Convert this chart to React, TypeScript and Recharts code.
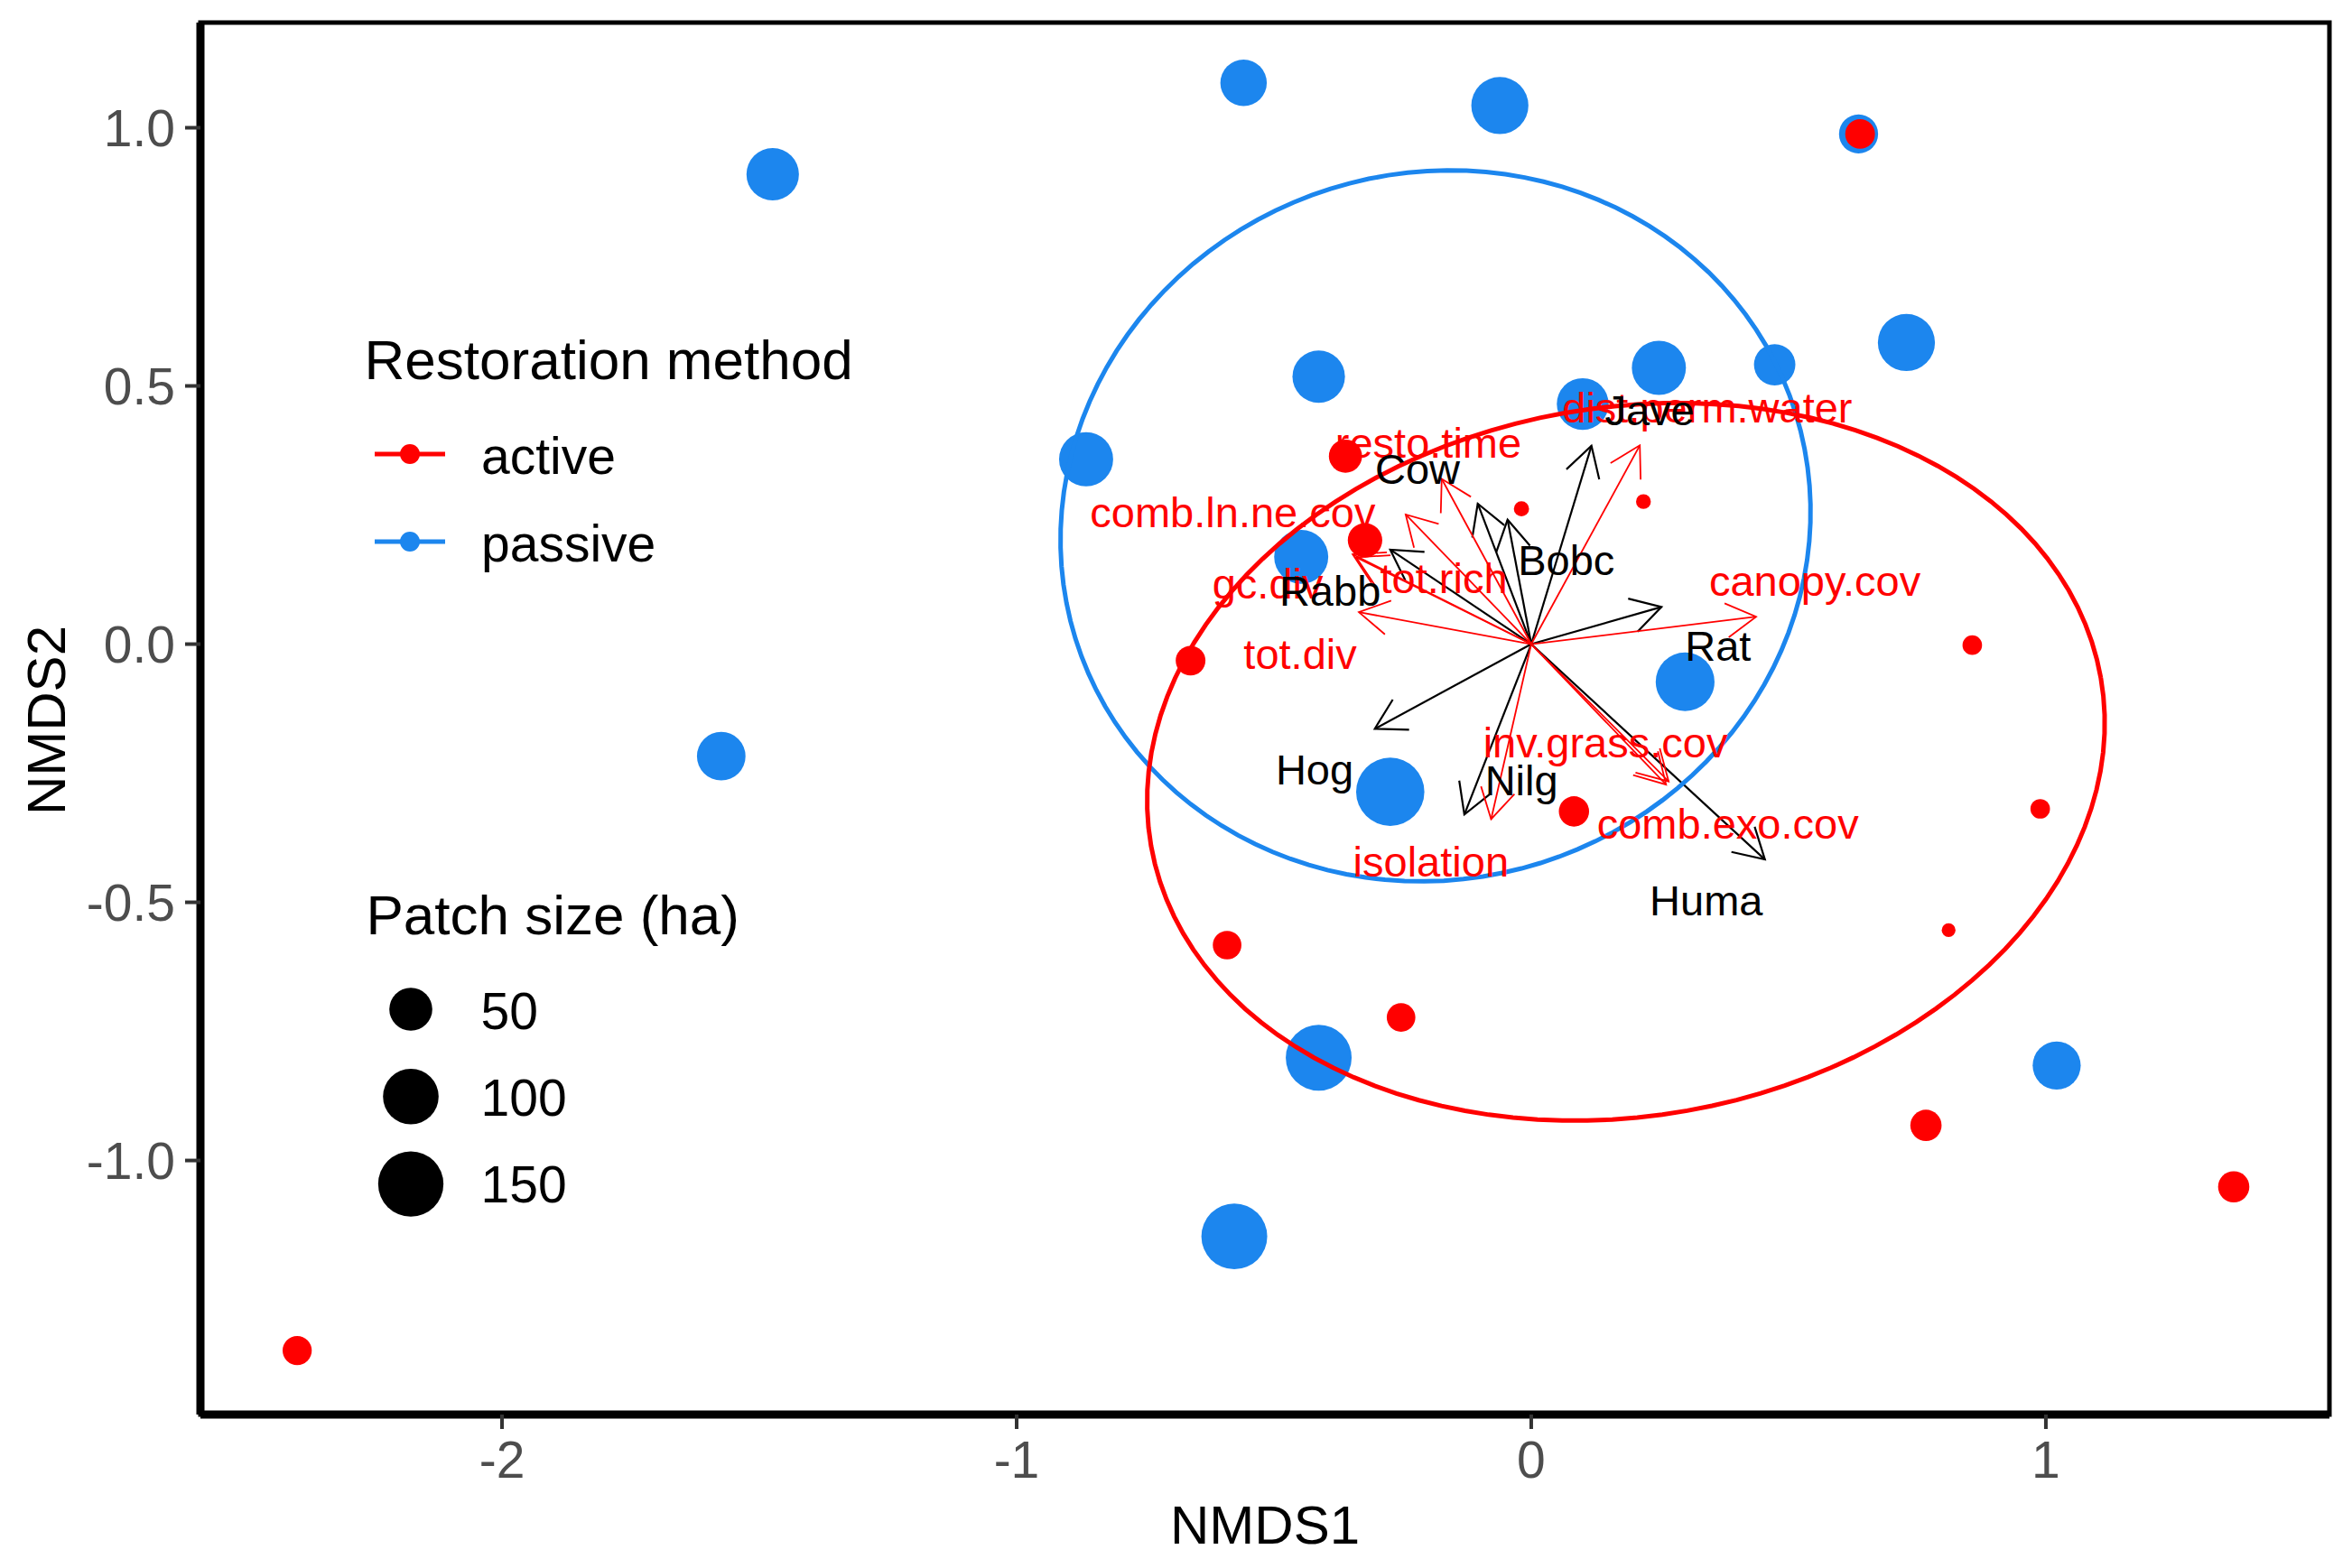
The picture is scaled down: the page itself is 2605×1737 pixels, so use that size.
import { ScatterChart, Scatter, XAxis, YAxis, ReferenceLine, ReferenceArea } from "recharts";

const FONT = "'Liberation Sans', Arial, Helvetica, sans-serif";
const RED = "#FF0000";
const BLUE = "#1C86EE";
const TICK_GREY = "#4D4D4D";

const W = 2589;
const H = 1721;

// axes
const X_DOMAIN: [number, number] = [-2.586, 1.551];
const Y_DOMAIN: [number, number] = [-1.492, 1.2037];
const X_TICKS = [-2, -1, 0, 1];
const Y_TICKS = [-1, -0.5, 0, 0.5, 1];

// site scores, passive restoration
const PASSIVE_X = [-0.559, -0.061, -1.474, 0.636, 0.729, 0.473, 0.248, 0.1, -0.413, -0.865, -0.447, 0.299, -0.274, -1.574, -0.413, 1.021, -0.577];
const PASSIVE_Y = [1.087, 1.043, 0.91, 0.988, 0.584, 0.541, 0.535, 0.465, 0.518, 0.358, 0.169, -0.073, -0.286, -0.217, -0.801, -0.816, -1.147];
const PASSIVE_HA = [62, 107, 86, 38, 107, 45, 93, 83, 86, 93, 93, 115, 167, 70, 153, 68, 153];

// site scores, active restoration
const ACTIVE_X = [0.639, -0.361, -0.323, -0.019, 0.218, -0.662, 0.857, 0.989, 0.811, 0.083, -0.591, -0.253, 0.767, 1.365, -2.398];
const ACTIVE_Y = [0.988, 0.364, 0.201, 0.262, 0.276, -0.032, -0.002, -0.319, -0.554, -0.324, -0.583, -0.723, -0.932, -1.051, -1.368];
const ACTIVE_HA = [16, 23, 26, 0.4, 0.3, 16, 2.7, 2.7, 0.1, 17, 14, 14, 19, 19, 15];

// species vectors (black)
const SPECIES = ["Jave", "Cow", "Bobc", "Rabb", "Rat", "Hog", "Nilg", "Huma"];
const SPECIES_X = [0.117, -0.104, -0.046, -0.274, 0.253, -0.304, -0.13, 0.454];
const SPECIES_Y = [0.384, 0.272, 0.241, 0.183, 0.072, -0.164, -0.33, -0.417];
const SPECIES_LX = [0.23, -0.221, 0.068, -0.391, 0.363, -0.421, -0.019, 0.34];
const SPECIES_LY = [0.453, 0.34, 0.163, 0.104, -0.003, -0.242, -0.263, -0.496];

// environmental vectors (red)
const ENV = ["dist.perm.water", "resto.time", "comb.ln.ne.cov", "gc.div", "tot.rich", "tot.div", "canopy.cov", "inv.grass.cov", "comb.exo.cov", "isolation"];
const ENV_X = [0.211, -0.174, -0.244, -0.347, -0.34, -0.335, 0.437, 0.267, 0.262, -0.078];
const ENV_Y = [0.385, 0.32, 0.251, 0.174, 0.168, 0.062, 0.053, -0.266, -0.272, -0.339];
const ENV_LX = [0.342, -0.2, -0.58, -0.512, -0.17, -0.449, 0.551, 0.144, 0.382, -0.195];
const ENV_LY = [0.458, 0.39, 0.256, 0.117, 0.128, -0.018, 0.122, -0.19, -0.348, -0.421];

// 95% ellipses per group: centre, semi-axes, rotation (deg)
const ELLIPSE_GROUP = ["passive", "active"];
const ELLIPSE_CX = [-0.186, 0.184];
const ELLIPSE_CY = [0.229, -0.228];
const ELLIPSE_A = [0.733, 0.937];
const ELLIPSE_B = [0.684, 0.686];
const ELLIPSE_ROT = [17.35, 10];

const SIZE_BREAKS = [50, 100, 150];

const radius = (ha: number) => 6.9 + 2.39 * Math.sqrt(ha);

const passive = PASSIVE_X.map((x, i) => ({ x, y: PASSIVE_Y[i], ha: PASSIVE_HA[i] }));
const active = ACTIVE_X.map((x, i) => ({ x, y: ACTIVE_Y[i], ha: ACTIVE_HA[i] }));
const speciesLabels = SPECIES.map((name, i) => ({ x: SPECIES_LX[i], y: SPECIES_LY[i], name }));
const envLabels = ENV.map((name, i) => ({ x: ENV_LX[i], y: ENV_LY[i], name }));

const ellipse = (i: number) => {
  const rot = (ELLIPSE_ROT[i] * Math.PI) / 180;
  const pts = [];
  for (let k = 0; k <= 120; k++) {
    const t = (2 * Math.PI * k) / 120;
    const u = ELLIPSE_A[i] * Math.cos(t);
    const v = ELLIPSE_B[i] * Math.sin(t);
    pts.push({
      x: ELLIPSE_CX[i] + u * Math.cos(rot) - v * Math.sin(rot),
      y: ELLIPSE_CY[i] + u * Math.sin(rot) + v * Math.cos(rot),
    });
  }
  return pts;
};

const dot = (color: string) => (p: any) => (
  <circle cx={p.cx} cy={p.cy} r={radius(p.payload.ha)} fill={color} />
);

const label = (color: string) => (p: any) => (
  <text x={p.cx} y={p.cy} dy="0.355em" fill={color} fontSize={47} fontFamily={FONT} textAnchor="middle">
    {p.payload.name}
  </text>
);

const arrow = (color: string, width: number) => (p: any) => {
  const { x1, y1, x2, y2 } = p;
  const ang = Math.atan2(y2 - y1, x2 - x1);
  const len = 38;
  const wing = Math.PI / 6;
  const ax = x2 - len * Math.cos(ang - wing);
  const ay = y2 - len * Math.sin(ang - wing);
  const bx = x2 - len * Math.cos(ang + wing);
  const by = y2 - len * Math.sin(ang + wing);
  return (
    <g>
      <line x1={x1} y1={y1} x2={x2} y2={y2} stroke={color} strokeWidth={width} />
      <polyline points={`${ax},${ay} ${x2},${y2} ${bx},${by}`} fill="none" stroke={color} strokeWidth={width} />
    </g>
  );
};

const none = () => <g />;

export default function App() {
  const tick = { fill: TICK_GREY, fontSize: 57, fontFamily: FONT };
  return (
    <div style={{ position: "relative", width: W, height: H, fontFamily: FONT, background: "#fff" }}>
      <ScatterChart width={W} height={H} margin={{ top: 17, right: 17, bottom: 12, left: 14 }}>
        <XAxis
          type="number"
          dataKey="x"
          domain={X_DOMAIN}
          ticks={X_TICKS}
          allowDataOverflow
          height={150}
          tick={tick}
          tickSize={16}
          tickMargin={14}
          tickLine={{ stroke: "#333", strokeWidth: 4 }}
          axisLine={{ stroke: "#000", strokeWidth: 9 }}
        />
        <YAxis
          type="number"
          dataKey="y"
          domain={Y_DOMAIN}
          ticks={Y_TICKS}
          allowDataOverflow
          width={200}
          tick={tick}
          tickSize={17}
          tickMargin={11}
          tickFormatter={(v: number) => v.toFixed(1)}
          tickLine={{ stroke: "#333", strokeWidth: 4 }}
          axisLine={{ stroke: "#000", strokeWidth: 9 }}
        />
        <ReferenceArea
          x1={X_DOMAIN[0]}
          x2={X_DOMAIN[1]}
          y1={Y_DOMAIN[0]}
          y2={Y_DOMAIN[1]}
          fill="none"
          fillOpacity={0}
          stroke="#000"
          strokeWidth={5}
          ifOverflow="visible"
        />
        <Scatter data={passive} shape={dot(BLUE)} isAnimationActive={false} />
        <Scatter data={active} shape={dot(RED)} isAnimationActive={false} />
        {ELLIPSE_GROUP.map((g, i) => (
          <Scatter
            key={g}
            data={ellipse(i)}
            shape={none}
            line={{ stroke: g === "active" ? RED : BLUE, strokeWidth: 5 }}
            lineType="joint"
            isAnimationActive={false}
          />
        ))}
        {SPECIES.map((s, i) => (
          <ReferenceLine
            key={s}
            segment={[{ x: 0, y: 0 }, { x: SPECIES_X[i], y: SPECIES_Y[i] }]}
            shape={arrow("#000", 2.2)}
            ifOverflow="visible"
          />
        ))}
        {ENV.map((e, i) => (
          <ReferenceLine
            key={e}
            segment={[{ x: 0, y: 0 }, { x: ENV_X[i], y: ENV_Y[i] }]}
            shape={arrow(RED, 1.8)}
            ifOverflow="visible"
          />
        ))}
        <Scatter data={envLabels} shape={label(RED)} isAnimationActive={false} />
        <Scatter data={speciesLabels} shape={label("#000")} isAnimationActive={false} />
      </ScatterChart>

      <svg width={W} height={H} style={{ position: "absolute", left: 0, top: 0, pointerEvents: "none" }} fontFamily={FONT}>
        {/* axis titles */}
        <text x={1393} y={1702} fontSize={60} textAnchor="middle" fill="#000">NMDS1</text>
        <text transform="translate(63.7,790) rotate(-90)" fontSize={60} textAnchor="middle" fill="#000">NMDS2</text>

        {/* colour legend */}
        <text x={395.6} y={412} fontSize={62} fill="#000">Restoration method</text>
        <line x1={407} x2={485} y1={495} y2={495} stroke={RED} strokeWidth={5} />
        <circle cx={446} cy={495} r={11} fill={RED} />
        <text x={525} y={517} fontSize={57} fill="#000">active</text>
        <line x1={407} x2={485} y1={592} y2={592} stroke={BLUE} strokeWidth={5} />
        <circle cx={446} cy={592} r={11} fill={BLUE} />
        <text x={525} y={613.7} fontSize={57} fill="#000">passive</text>

        {/* size legend */}
        <text x={397.4} y={1027} fontSize={62} fill="#000">Patch size (ha)</text>
        {SIZE_BREAKS.map((b, i) => (
          <g key={b}>
            <circle cx={447} cy={1110 + i * 96.8} r={radius(b)} fill="#000" />
            <text x={524.6} y={1132 + i * 96} fontSize={57} fill="#000">{b}</text>
          </g>
        ))}
      </svg>
    </div>
  );
}
